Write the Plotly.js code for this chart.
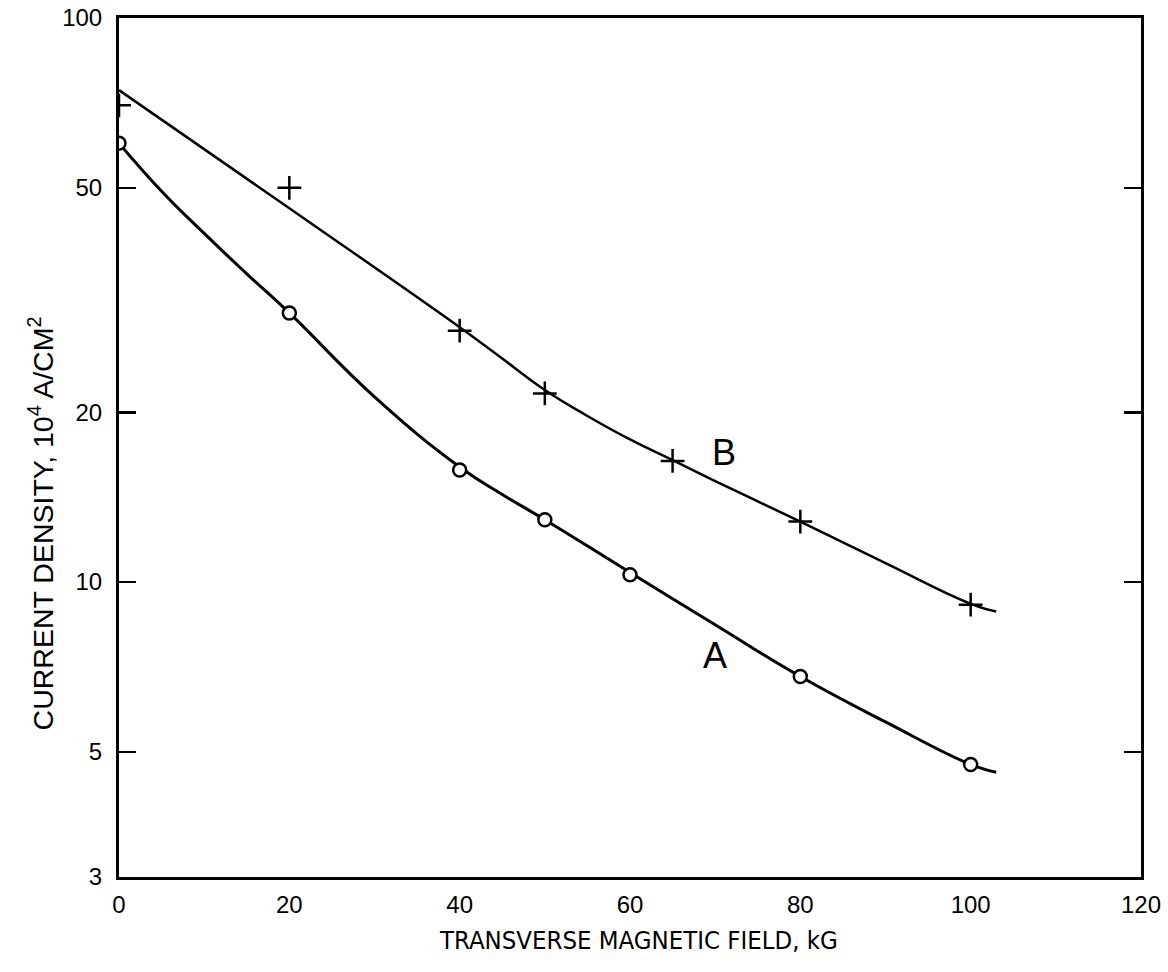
<!DOCTYPE html>
<html>
<head>
<meta charset="utf-8">
<script src="https://cdn.plot.ly/plotly-3.0.1.min.js"></script>
<style>html,body{margin:0;padding:0;background:#fff;}#chart{width:1168px;height:972px;}</style>
</head>
<body>
<div id="chart"></div>
<script>
// Measured points, sample A (circles)
const fieldA = [0, 20, 40, 50, 60, 80, 100];
const densityA = [60, 30, 15.8, 12.9, 10.3, 6.8, 4.75];
// Measured points, sample B (plus signs)
const fieldB = [0, 20, 40, 50, 65, 80, 100];
const densityB = [70, 50, 27.9, 21.6, 16.4, 12.8, 9.12];
// Drawn (fitted) curves
const curveAx = [0, 5, 10, 15, 20, 30, 40, 45, 50, 60, 70, 80, 90, 100, 103];
const curveAy = [60, 49.3, 41.5, 35.2, 30, 21.3, 16.0, 14.3, 12.9, 10.4, 8.4, 6.8, 5.65, 4.75, 4.6];
const curveBx = [0, 20, 40, 45, 50, 55, 60, 65, 70, 80, 90, 100, 103];
const curveBy = [74.5, 46, 28.3, 24.9, 21.9, 19.7, 17.9, 16.45, 15.1, 12.8, 10.8, 9.15, 8.87];
// Axis ticks
const xTickVals = [0, 20, 40, 60, 80, 100, 120];
const xTopTicks = [20, 40, 60, 80, 100];
const yTickVals = [3, 5, 10, 20, 50, 100];
const yTickText = ['3', '5', '10', '20', '50', '100'];
// Curve labels
const curveLabels = ['A', 'B'];
const labelX = [70, 71];
const labelY = [7.4, 17.0];

const FONT = '"Liberation Sans", Arial, sans-serif';
const NARROW = '"Liberation Sans Narrow", "DejaVu Sans Condensed", "Liberation Sans", sans-serif';

const traces = [
  {x: curveAx, y: curveAy, mode: 'lines', line: {shape: 'spline', smoothing: 1.3, color: '#000', width: 3}, hoverinfo: 'skip', showlegend: false},
  {x: curveBx, y: curveBy, mode: 'lines', line: {shape: 'spline', smoothing: 1.3, color: '#000', width: 2.5}, hoverinfo: 'skip', showlegend: false},
  {x: fieldA, y: densityA, mode: 'markers', marker: {symbol: 'circle', size: 13, color: '#fff', line: {color: '#000', width: 2.5}}, showlegend: false},
  {x: fieldB, y: densityB, mode: 'markers', marker: {symbol: 'cross-thin-open', size: 17, color: '#000', line: {color: '#000', width: 2.5}}, showlegend: false}
];

const annotations = curveLabels.map((t, i) => ({
  x: labelX[i], y: Math.log10(labelY[i]), xref: 'x', yref: 'y', text: t, showarrow: false,
  xanchor: 'center', yanchor: 'middle',
  font: {family: FONT, size: 36, color: '#000'}
}));
annotations.push({
  x: 0.508, y: -0.073, xref: 'paper', yref: 'paper', xanchor: 'center', yanchor: 'middle',
  text: 'TRANSVERSE MAGNETIC FIELD, kG', showarrow: false,
  font: {family: NARROW, size: 25.5, color: '#000'}
});
annotations.push({
  x: -0.076, y: 0.412, xref: 'paper', yref: 'paper', xanchor: 'center', yanchor: 'middle',
  text: 'CURRENT DENSITY, 10<sup>4</sup> A/CM<sup>2</sup>', showarrow: false,
  textangle: -90, font: {family: FONT, size: 28.5, color: '#000'}
});

const layout = {
  width: 1168, height: 972,
  margin: {l: 119, r: 27, t: 18, b: 95},
  paper_bgcolor: '#fff', plot_bgcolor: '#fff',
  showlegend: false,
  font: {family: FONT, color: '#000'},
  xaxis: {
    range: [0, 120], tickvals: xTickVals, ticks: '', showgrid: false, zeroline: false,
    showline: true, linecolor: '#000', linewidth: 3, mirror: true,
    tickfont: {family: FONT, size: 24, color: '#000'}, ticklabelstandoff: 4
  },
  xaxis2: {
    range: [0, 120], overlaying: 'x', side: 'top', tickvals: xTopTicks,
    ticks: 'inside', ticklen: 18, tickwidth: 2.5, tickcolor: '#000', showticklabels: false,
    showgrid: false, zeroline: false, showline: false
  },
  yaxis: {
    type: 'log', range: [Math.log10(3), 2], tickvals: yTickVals, ticktext: yTickText,
    ticks: 'inside', ticklen: 17, tickwidth: 2.5, tickcolor: '#000', mirror: 'allticks',
    showgrid: false, zeroline: false, showline: true, linecolor: '#000', linewidth: 3,
    tickfont: {family: FONT, size: 24, color: '#000'}, ticklabelstandoff: 9
  },
  annotations: annotations
};

Plotly.newPlot('chart', traces, layout, {displayModeBar: false, staticPlot: true});
</script>
</body>
</html>
